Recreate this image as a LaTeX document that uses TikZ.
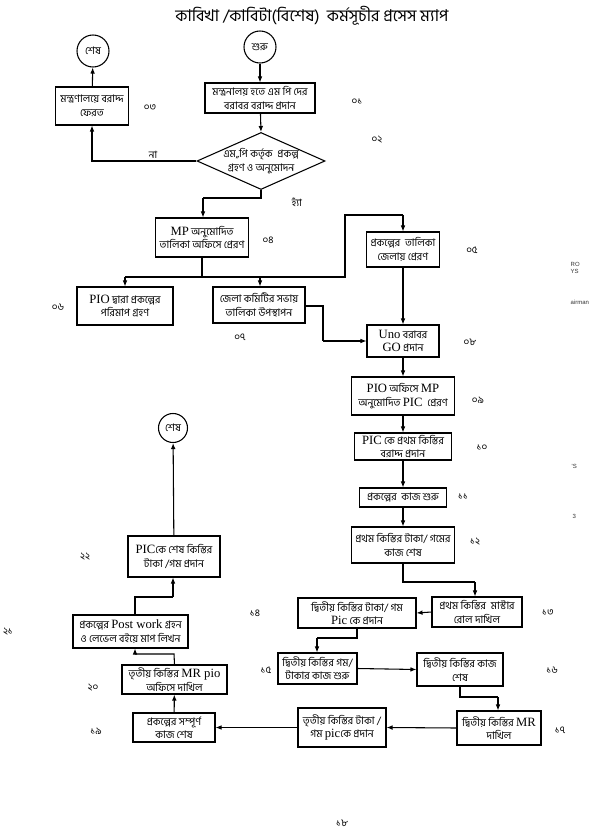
\documentclass[tikz,border=0pt]{standalone}
\usepackage{fontspec}
\setmainfont{Hind Siliguri}[Script=Bengali]
\newfontfamily\latinfont{Liberation Serif}
\newfontfamily\smallsans{Liberation Sans}
\usetikzlibrary{arrows.meta,shapes.geometric}
\newdimen\px \px=0.75pt
\newcommand\lat[1]{{\latinfont\fontsize{9.5}{9}\selectfont #1}}
\newcommand\bx[6]{\node[box, minimum width=#4\px, minimum height=#5\px] (#1) at (#2,#3) {#6};}
\tikzset{
  box/.style={draw, line width=0.8pt, align=center, inner xsep=1pt, inner ysep=0pt, font=\fontsize{7.8}{10}\selectfont},
  circ/.style={draw, circle, line width=0.8pt, inner sep=0pt, font=\fontsize{7.8}{8}\selectfont},
  arr/.style={-{Latex[length=4.5pt,width=3.5pt]}, line width=0.8pt},
  ln/.style={line width=0.8pt},
  num/.style={font=\fontsize{7.5}{8}\selectfont},
  frag/.style={font=\smallsans\fontsize{4.5}{5}\selectfont, text=black!80}
}
\begin{document}
\begin{tikzpicture}[x=0.75pt,y=-0.75pt]
\fill[white] (0,0) rectangle (595,834);
\useasboundingbox (0,0) rectangle (595,834);

% title
\node[font=\fontsize{12.2}{14}\selectfont] (title) at (312,16) {কাবিখা /কাবিটা(বিশেষ)\ \ কর্মসূচীর প্রসেস ম্যাপ};

% circles
\node[circ, minimum size=32\px] (start) at (260,47) {শুরু};
\node[circ, minimum size=32\px] (endA) at (93,51) {শেষ};
\node[circ, minimum size=29\px] (endB) at (173,428) {শেষ};

% boxes
\bx{b01}{260}{98}{110}{30}{মন্ত্রনালয় হতে এম পি দের\\বরাবর বরাদ্দ প্রদান}
\bx{b03}{92}{106}{73}{38}{মন্ত্রণালয়ে বরাদ্দ\\ফেরত}
\node[draw, diamond, line width=0.8pt, minimum width=128\px, minimum height=57\px, aspect=2.25, inner sep=0pt] (dia) at (261,161) {};
\node[align=center, font=\fontsize{7.8}{10}\selectfont] (diatext) at (dia.center) {এম,,পি কর্তৃক\ \ প্রকল্প\\গ্রহণ ও অনুমোদন};
\bx{b04}{202}{237.5}{93}{39}{\lat{MP} অনুমোদিত\\তালিকা অফিসে প্রেরণ}
\bx{b05}{403}{249.5}{73}{35}{প্রকল্পের\ \ তালিকা\\জেলায় প্রেরণ}
\bx{b06}{125}{306}{96}{38}{\lat{PIO} দ্বারা প্রকল্পের\\পরিমাপ গ্রহণ}
\bx{b07}{259}{305}{92}{36}{জেলা কমিটির সভায়\\তালিকা উপস্থাপন}
\bx{b08}{403}{341}{72}{32}{\lat{Uno} বরাবর\\\lat{GO} প্রদান}
\bx{b09}{403}{396}{103}{38}{\lat{PIO} অফিসে \lat{MP}\\অনুমোদিত \lat{PIC}\ \ প্রেরণ}
\bx{b10}{403}{446.5}{97}{27}{\lat{PIC} কে প্রথম কিস্তির\\বরাদ্দ প্রদান}
\bx{b11}{403}{497.5}{87}{19}{প্রকল্পের\ \ কাজ শুরু}
\bx{b12}{403}{545}{103}{36}{প্রথম কিস্তির টাকা/ গমের\\কাজ শেষ}
\bx{b13}{477}{612}{90}{30}{প্রথম কিস্তির\ \ মাস্টার\\রোল দাখিল}
\bx{b14}{357}{613}{118}{30}{দ্বিতীয় কিস্তির টাকা/ গম\\\lat{Pic} কে প্রদান}
\bx{b15}{317.5}{668.5}{79}{31}{দ্বিতীয় কিস্তির গম/\\টাকার কাজ শুরু}
\bx{b16}{460}{669.5}{86}{33}{দ্বিতীয় কিস্তির কাজ\\শেষ}
\bx{b17}{499}{728}{84}{34}{দ্বিতীয় কিস্তির \lat{MR}\\দাখিল}
\bx{b18}{342}{727.5}{88}{39}{তৃতীয় কিস্তির টাকা /\\গম \lat{pic}কে প্রদান}
\bx{b19}{174}{727.5}{82}{29}{প্রকল্পের সম্পূর্ণ\\কাজ শেষ}
\bx{b20}{174.5}{679.5}{105}{29}{তৃতীয় কিস্তির \lat{MR pio}\\অফিসে দাখিল}
\bx{b21}{130.5}{631.5}{115}{33}{প্রকল্পের \lat{Post work} গ্রহন\\ও লেভেল বইয়ে মাপ লিখন}
\bx{b22}{174}{556.5}{92}{41}{\lat{PIC}কে শেষ কিস্তির\\টাকা /গম প্রদান}

% labels
\node[num] (lna) at (153,155) {না};
\node[num] (lha) at (297,202) {হ্যাঁ};
\node[num] (n01) at (357,102) {০১};
\node[num] (n02) at (377,140) {০২};
\node[num] (n03) at (150,108) {০৩};
\node[num] (n04) at (268,240) {০৪};
\node[num] (n05) at (472,250) {০৫};
\node[num] (n06) at (58,307) {০৬};
\node[num] (n07) at (240,337) {০৭};
\node[num] (n08) at (470,342) {০৮};
\node[num] (n09) at (478,400) {০৯};
\node[num] (n10) at (482,448) {১০};
\node[num] (n11) at (463,497) {১১};
\node[num] (n12) at (475,542) {১২};
\node[num] (n13) at (548,613) {১৩};
\node[num] (n14) at (255,613) {১৪};
\node[num] (n15) at (266,670) {১৫};
\node[num] (n16) at (552,670) {১৬};
\node[num] (n17) at (560,730) {১৭};
\node[num] (n18) at (342,823) {১৮};
\node[num] (n19) at (96,731) {১৯};
\node[num] (n20) at (93,688) {২০};
\node[num] (n21) at (8,632) {২১};
\node[num] (n22) at (85,557) {২২};

% clipped fragments at right edge
\node[frag, anchor=west] (f1) at (566,264) {RO};
\node[frag, anchor=west] (f2) at (566,271) {YS};
\node[frag, anchor=west] (f3) at (566,302) {airman};
\node[frag, anchor=west] (f4) at (567,466) {'S};
\node[frag, anchor=west] (f5) at (568,516) {3};

% coordinates
\coordinate (c1) at (261,198);
\coordinate (c2) at (203,198);
\coordinate (j0) at (125,277);
\coordinate (j1) at (202,277);
\coordinate (j2) at (260,277);
\coordinate (j3) at (345,277);
\coordinate (j4) at (345,215);
\coordinate (j5) at (403,215);
\coordinate (k1) at (323,306);
\coordinate (k2) at (323,341);
\coordinate (m1) at (403,582);
\coordinate (m2) at (475,582);
\coordinate (p1) at (357,638);
\coordinate (p2) at (317,638);
\coordinate (q1) at (460,697);
\coordinate (q2) at (498,697);
\coordinate (r1) at (174,654);
\coordinate (r2) at (135,654);
\coordinate (s1) at (135,597);
\coordinate (s2) at (173,597);

% connectors
\draw[arr] (start) -- (b01);
\draw[arr] (b01) -- (dia.north);
\draw[arr] (dia.west) -| (b03.south);
\draw[arr] (b03) -- (endA);
\draw[ln] (dia.south) -- (c1) -- (c2);
\draw[arr] (c2) -- (c2 |- b04.north);
\draw[ln] (b04.south -| j1) -- (j1);
\draw[ln] (j0) -- (j3) -- (j4) -- (j5);
\draw[arr] (j5) -- (b05.north);
\draw[arr] (j0) -- (j0 |- b06.north);
\draw[arr] (j2) -- (j2 |- b07.north);
\draw[arr] (b05) -- (b08);
\draw[ln] (b07.east |- k1) -- (k1) -- (k2);
\draw[arr] (k2) -- (b08.west |- k2);
\draw[arr] (b08) -- (b09);
\draw[arr] (b09) -- (b10);
\draw[arr] (b10) -- (b11);
\draw[arr] (b11) -- (b12);
\draw[ln] (b12.south) -- (m1) -- (m2);
\draw[arr] (m2) -- (m2 |- b13.north);
\draw[arr] (b13.west) -- (b14.east);
\draw[ln] (b14.south) -- (p1) -- (p2);
\draw[arr] (p2) -- (p2 |- b15.north);
\draw[arr] (b15.east) -- (b16.west);
\draw[ln] (b16.south) -- (q1) -- (q2);
\draw[arr] (q2) -- (q2 |- b17.north);
\draw[arr] (b17.west) -- (b18.east);
\draw[arr] (b18.west) -- (b19.east);
\draw[arr] (b19) -- (b20);
\draw[ln] (b20.north) -- (r1) -- (r2);
\draw[arr] (r2) -- (r2 |- b21.south);
\draw[ln] (s1 |- b21.north) -- (s1) -- (s2);
\draw[arr] (s2) -- (s2 |- b22.south);
\draw[arr] (b22) -- (endB);
\end{tikzpicture}
\end{document}
